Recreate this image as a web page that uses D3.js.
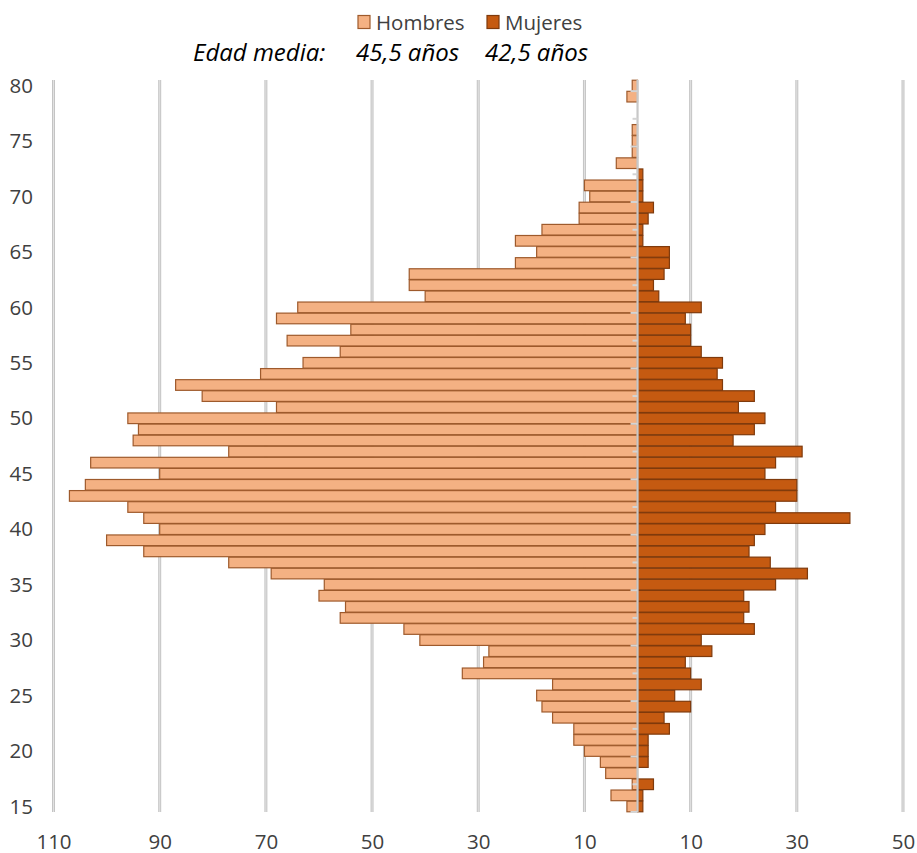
<!DOCTYPE html>
<html>
<head>
<meta charset="utf-8">
<script src="https://cdn.jsdelivr.net/npm/d3@7"></script>
<style>
  html, body { margin: 0; padding: 0; background: #ffffff; }
  svg { display: block; }
</style>
</head>
<body>
<svg id="chart" width="917" height="853"></svg>
<script>
// ---- Data ----
const ages = d3.range(15, 81); // 15 .. 80
const hombres = [2, 5, 1, 6, 7, 10, 12, 12, 16, 18, 19, 16, 33, 29, 28, 41, 44, 56, 55, 60,
                 59, 69, 77, 93, 100, 90, 93, 96, 107, 104, 90, 103, 77, 95, 94, 96, 68, 82, 87, 71,
                 63, 56, 66, 54, 68, 64, 40, 43, 43, 23, 19, 23, 18, 11, 11, 9, 10, 0, 4, 1,
                 1, 1, 0, 0, 2, 1];
const mujeres = [1, 1, 3, 0, 2, 2, 2, 6, 5, 10, 7, 12, 10, 9, 14, 12, 22, 20, 21, 20,
                 26, 32, 25, 21, 22, 24, 40, 26, 30, 30, 24, 26, 31, 18, 22, 24, 19, 22, 16, 15,
                 16, 12, 10, 10, 9, 12, 4, 3, 5, 6, 6, 1, 1, 2, 3, 1, 1, 1, 0, 0,
                 0, 0, 0, 0, 0, 0];
const xTickValues = [-110, -90, -70, -50, -30, -10, 10, 30, 50];
const yTickAges = [15, 20, 25, 30, 35, 40, 45, 50, 55, 60, 65, 70, 75, 80];
const seriesNames = ["Hombres", "Mujeres"];
const edadMediaLabel = "Edad media:";
const edadMedia = ["45,5 años", "42,5 años"];

// ---- Layout ----
const svg = d3.select("#chart");
const plot = { left: 53.5, right: 903, top: 80, bottom: 812 };
const colors = {
  menFill: "#F4B183", menStroke: "#9E5A2C",
  womenFill: "#C55A11", womenStroke: "#7F3A0C",
  grid: "#C4C4C4", gridInner: "#E2E2E2", axis: "#C8C8C8", text: "#404040"
};

const x = d3.scaleLinear().domain([-110, 50]).range([plot.left, plot.right]);
const y = d3.scaleBand().domain(ages.slice().reverse()).range([plot.top, plot.bottom]).paddingInner(0.04).paddingOuter(0.02);

// Gridlines
const grid = svg.append("g");
grid.selectAll("line.g1").data(xTickValues).join("line")
  .attr("x1", d => x(d)).attr("x2", d => x(d))
  .attr("y1", plot.top).attr("y2", plot.bottom)
  .attr("stroke", colors.grid).attr("stroke-width", 3);
grid.selectAll("line.g2").data(xTickValues).join("line")
  .attr("x1", d => x(d)).attr("x2", d => x(d))
  .attr("y1", plot.top).attr("y2", plot.bottom)
  .attr("stroke", colors.gridInner).attr("stroke-width", 1);

// Bars
const menData = ages.map((a, i) => ({ age: a, v: hombres[i] })).filter(d => d.v > 0);
const womenData = ages.map((a, i) => ({ age: a, v: mujeres[i] })).filter(d => d.v > 0);

svg.append("g").selectAll("rect").data(menData).join("rect")
  .attr("x", d => x(-d.v))
  .attr("y", d => y(d.age))
  .attr("width", d => x(0) - x(-d.v))
  .attr("height", y.bandwidth())
  .attr("fill", colors.menFill)
  .attr("stroke", colors.menStroke)
  .attr("stroke-width", 1.2);

svg.append("g").selectAll("rect").data(womenData).join("rect")
  .attr("x", x(0))
  .attr("y", d => y(d.age))
  .attr("width", d => x(d.v) - x(0))
  .attr("height", y.bandwidth())
  .attr("fill", colors.womenFill)
  .attr("stroke", colors.womenStroke)
  .attr("stroke-width", 1.2);

// Central vertical axis with tick marks
const axisG = svg.append("g");
axisG.append("line")
  .attr("x1", x(0)).attr("x2", x(0))
  .attr("y1", plot.top).attr("y2", plot.bottom)
  .attr("stroke", colors.axis).attr("stroke-width", 2.2);
const step = y.step();
const majorY = d3.range(0, 14).map(k => plot.bottom - k * 5 * step).filter(v => v >= plot.top - 1);
const minorY = d3.range(0, 14).map(k => plot.bottom - (k * 5 + 2.5) * step).filter(v => v > plot.top);
axisG.selectAll("line.maj").data(majorY).join("line")
  .attr("x1", x(0) - 7).attr("x2", x(0))
  .attr("y1", d => d).attr("y2", d => d)
  .attr("stroke", "#D4D4D4").attr("stroke-width", 2);
axisG.selectAll("line.min").data(minorY).join("line")
  .attr("x1", x(0) - 5).attr("x2", x(0))
  .attr("y1", d => d).attr("y2", d => d)
  .attr("stroke", "#D4D4D4").attr("stroke-width", 2);

// Y labels (left)
svg.append("g").selectAll("text").data(yTickAges).join("text")
  .attr("x", 33)
  .attr("y", d => y(d) + y.bandwidth() / 2)
  .attr("dy", "0.35em")
  .attr("text-anchor", "end")
  .attr("font-family", "'Open Sans', sans-serif")
  .attr("font-size", 20.5)
  .attr("fill", colors.text)
  .text(d => d);

// X axis labels (bottom)
const xAxis = d3.axisBottom(x).tickValues(xTickValues).tickFormat(d => Math.abs(d)).tickSize(0).tickPadding(0);
const xg = svg.append("g").attr("transform", `translate(0, ${plot.bottom})`).call(xAxis);
xg.select(".domain").remove();
xg.selectAll("text")
  .attr("y", 36.5)
  .attr("dy", 0)
  .attr("font-family", "'Open Sans', sans-serif")
  .attr("font-size", 20.5)
  .attr("fill", colors.text);

// Legend
const legend = svg.append("g");
const legendItems = [
  { name: seriesNames[0], fill: colors.menFill, stroke: colors.menStroke, sx: 358, tx: 376 },
  { name: seriesNames[1], fill: colors.womenFill, stroke: colors.womenStroke, sx: 487, tx: 505 }
];
legendItems.forEach(it => {
  legend.append("rect").attr("x", it.sx).attr("y", 15.5).attr("width", 12).attr("height", 13)
    .attr("fill", it.fill).attr("stroke", it.stroke).attr("stroke-width", 1.2);
  legend.append("text").attr("x", it.tx).attr("y", 29.5)
    .attr("font-family", "'Open Sans', sans-serif").attr("font-size", 20.5)
    .attr("fill", colors.text).text(it.name);
});

// Edad media line
const em = svg.append("g").attr("font-family", "'Open Sans', sans-serif").attr("font-style", "italic")
  .attr("font-size", 24).attr("fill", "#000000");
em.append("text").attr("x", 193).attr("y", 61).text(edadMediaLabel);
em.append("text").attr("x", 356).attr("y", 61).text(edadMedia[0]);
em.append("text").attr("x", 485).attr("y", 61).text(edadMedia[1]);
</script>
</body>
</html>
